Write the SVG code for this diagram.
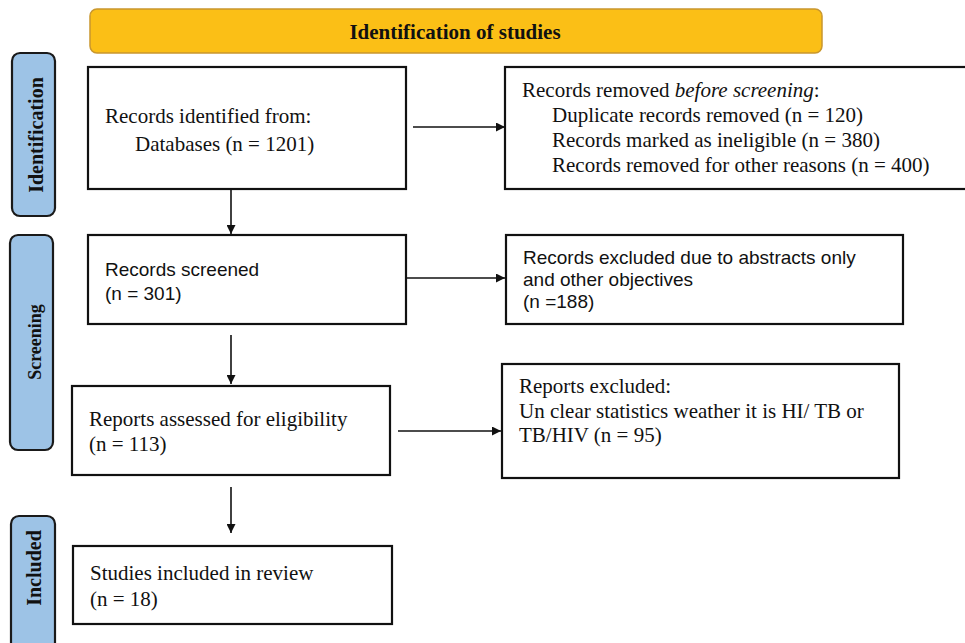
<svg xmlns="http://www.w3.org/2000/svg" width="965" height="643" viewBox="0 0 965 643">
<style>
.box{fill:#fff;stroke:#111;stroke-width:2.2}
.side{fill:#9DC3E6;stroke:#1a1a1a;stroke-width:2.2}
.serif{font-family:"Liberation Serif","Times New Roman",serif;font-size:21px;fill:#111}
.sans{font-family:"Liberation Sans",Arial,sans-serif;font-size:19px;fill:#111}
.lab{font-family:"Liberation Serif","Times New Roman",serif;font-size:20px;font-weight:bold;fill:#111}
.conn{stroke:#111;stroke-width:1.6;fill:none;marker-end:url(#ah)}
</style>
<defs>
<marker id="ah" viewBox="0 0 10 10" refX="10" refY="5" markerWidth="9" markerHeight="9" markerUnits="userSpaceOnUse" orient="auto">
<path d="M0,0 L10,5 L0,10 z" fill="#111"/>
</marker>
</defs>
<rect width="965" height="643" fill="#fff"/>
<g id="header">
<rect x="90" y="9" width="732" height="44" rx="7" fill="#FBBF16" stroke="#C9972E" stroke-width="1.5"/>
<text x="455" y="39" text-anchor="middle" style="font-family:'Liberation Serif','Times New Roman',serif;font-size:21px;font-weight:bold;fill:#111">Identification of studies</text>
</g>
<g id="side-identification">
<rect class="side" x="12" y="53" width="43" height="163" rx="8"/>
<text class="lab" transform="translate(43,135) rotate(-90)" text-anchor="middle">Identification</text>
</g>
<g id="side-screening">
<rect class="side" x="10" y="235" width="43" height="215" rx="8"/>
<text class="lab" transform="translate(41,342) rotate(-90)" text-anchor="middle" style="font-size:18px">Screening</text>
</g>
<g id="side-included">
<rect class="side" x="11" y="516" width="44" height="140" rx="8"/>
<text class="lab" transform="translate(41,568) rotate(-90)" text-anchor="middle">Included</text>
</g>
<g id="records-identified">
<rect class="box" x="88" y="67" width="318" height="122"/>
<text class="serif" x="105" y="123">Records identified from:</text>
<text class="serif" x="135" y="151">Databases (n = 1201)</text>
</g>
<g id="records-removed">
<rect class="box" x="505" y="67" width="470" height="122"/>
<text class="serif" x="522" y="97">Records removed <tspan font-style="italic">before screening</tspan>:</text>
<text class="serif" x="552" y="122">Duplicate records removed (n = 120)</text>
<text class="serif" x="552" y="147">Records marked as ineligible (n = 380)</text>
<text class="serif" x="552" y="172">Records removed for other reasons (n = 400)</text>
</g>
<g id="records-screened">
<rect class="box" x="88" y="235" width="318" height="89"/>
<text class="sans" x="105" y="276">Records screened</text>
<text class="sans" x="105" y="300">(n = 301)</text>
</g>
<g id="records-excluded">
<rect class="box" x="506" y="235" width="397" height="89"/>
<text class="sans" x="523" y="264">Records excluded due to abstracts only</text>
<text class="sans" x="523" y="286">and other objectives</text>
<text class="sans" x="523" y="308">(n =188)</text>
</g>
<g id="reports-assessed">
<rect class="box" x="72" y="386" width="318" height="89"/>
<text class="serif" x="89" y="426">Reports assessed for eligibility</text>
<text class="serif" x="89" y="451">(n = 113)</text>
</g>
<g id="reports-excluded">
<rect class="box" x="502" y="364" width="397" height="114"/>
<text class="serif" x="519" y="393">Reports excluded:</text>
<text class="serif" x="519" y="418">Un clear statistics weather it is HI/ TB or</text>
<text class="serif" x="519" y="442">TB/HIV (n = 95)</text>
</g>
<g id="studies-included">
<rect class="box" x="73" y="546" width="319" height="78"/>
<text class="serif" x="90" y="580">Studies included in review</text>
<text class="serif" x="90" y="606">(n = 18)</text>
</g>
<g id="connectors">
<path class="conn" d="M413,127 H505"/>
<path class="conn" d="M231,189 V234"/>
<path class="conn" d="M406,278 H505"/>
<path class="conn" d="M231,335 V384"/>
<path class="conn" d="M398,431 H501"/>
<path class="conn" d="M231,487 V533"/>
</g>
</svg>
